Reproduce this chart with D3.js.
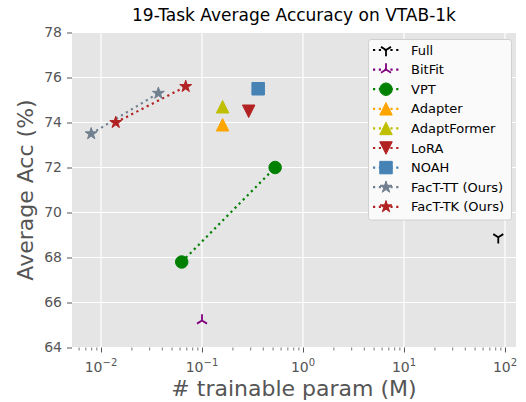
<!DOCTYPE html>
<html>
<head>
<meta charset="utf-8">
<script src="https://cdn.jsdelivr.net/npm/d3@7"></script>
<style>
  html, body { margin: 0; padding: 0; background: #fff; }
  svg { display: block; font-family: "DejaVu Sans", sans-serif; }
</style>
</head>
<body>
<svg id="chart" width="526" height="402"></svg>
<script>
// ---- data ----
const methods = ["Full", "BitFit", "VPT", "Adapter", "AdaptFormer", "LoRA", "NOAH", "FacT-TT (Ours)", "FacT-TK (Ours)"];
const trainableParams = [[85.8], [0.10], [0.063, 0.53], [0.16], [0.16], [0.29], [0.36], [0.008, 0.037], [0.014, 0.069]];
const avgAccuracy = [[68.9], [65.2], [67.8, 72.0], [73.9], [74.7], [74.5], [75.5], [73.5, 75.3], [74.0, 75.6]];
const markerShapes = ["tri_down", "tri_up", "circle", "triangle_up", "triangle_up", "triangle_down", "square", "star", "star"];
const colors = ["#000000", "#800080", "#008000", "#FFA500", "#BFBF00", "#B22222", "#4682B4", "#708090", "#B22222"];
const yTicks = [64, 66, 68, 70, 72, 74, 76, 78];
const xTickExponents = [-2, -1, 0, 1, 2];
const titleText = "19-Task Average Accuracy on VTAB-1k";
const xLabel = "# trainable param (M)";
const yLabel = "Average Acc (%)";

// ---- layout ----
const W = 526, H = 402;
const plot = { left: 72, right: 516, top: 32.5, bottom: 347.5 };
const svg = d3.select("#chart");

const x = d3.scaleLog()
  .domain([Math.pow(10, -2.287), Math.pow(10, 2.109)])
  .range([plot.left, plot.right]);
const y = d3.scaleLinear().domain([64, 78]).range([plot.bottom, plot.top]);

// background
svg.append("rect").attr("x", plot.left).attr("y", plot.top)
  .attr("width", plot.right - plot.left).attr("height", plot.bottom - plot.top)
  .attr("fill", "#E5E5E5");

// grid
const gridG = svg.append("g");
const majorX = xTickExponents.map(e => Math.pow(10, e));
gridG.selectAll("line.gx").data(majorX).join("line")
  .attr("x1", d => x(d)).attr("x2", d => x(d))
  .attr("y1", plot.top).attr("y2", plot.bottom)
  .attr("stroke", "#fff").attr("stroke-width", 1.2);
gridG.selectAll("line.gy").data(yTicks).join("line")
  .attr("y1", d => y(d)).attr("y2", d => y(d))
  .attr("x1", plot.left).attr("x2", plot.right)
  .attr("stroke", "#fff").attr("stroke-width", 1.2);

// axes
const tickColor = "#555555";
const yAxis = d3.axisLeft(y).tickValues(yTicks).tickSize(5).tickPadding(5).tickFormat(d3.format("d"));
const yG = svg.append("g").attr("transform", `translate(${plot.left},0)`).call(yAxis);
yG.select(".domain").remove();
yG.selectAll(".tick line").attr("stroke", tickColor).attr("stroke-width", 1);
yG.selectAll(".tick text").attr("fill", tickColor).attr("font-size", 14)
  .attr("font-family", "DejaVu Sans");

// x axis: major ticks
const xAxis = d3.axisBottom(x).tickValues(majorX).tickSize(5).tickFormat("");
const xG = svg.append("g").attr("transform", `translate(0,${plot.bottom})`).call(xAxis);
xG.select(".domain").remove();
xG.selectAll(".tick line").attr("stroke", tickColor).attr("stroke-width", 1);
// minor ticks
const minorX = [];
const [d0, d1] = x.domain();
for (let e = -3; e <= 2; e++) {
  for (let m = 2; m <= 9; m++) {
    const v = m * Math.pow(10, e);
    if (v >= d0 && v <= d1) minorX.push(v);
  }
}
const xMinorAxis = d3.axisBottom(x).tickValues(minorX).tickSize(3).tickFormat("");
const xmG = svg.append("g").attr("transform", `translate(0,${plot.bottom})`).call(xMinorAxis);
xmG.select(".domain").remove();
xmG.selectAll(".tick line").attr("stroke", tickColor).attr("stroke-width", 0.8);

// x tick labels with superscripts
const xLab = svg.append("g");
xTickExponents.forEach(e => {
  const t = xLab.append("text")
    .attr("x", x(Math.pow(10, e)))
    .attr("y", plot.bottom + 24.5)
    .attr("text-anchor", "middle")
    .attr("fill", tickColor)
    .attr("font-size", 14);
  t.append("tspan").text("10");
  t.append("tspan").attr("font-size", 10).attr("dy", -6)
    .text(e < 0 ? "\u2212" + Math.abs(e) : String(e));
});

// axis labels & title
svg.append("text").attr("x", (plot.left + plot.right) / 2).attr("y", 396)
  .attr("text-anchor", "middle").attr("fill", tickColor).attr("font-size", 22)
  .text(xLabel);
svg.append("text")
  .attr("transform", `translate(33,${(plot.top + plot.bottom) / 2}) rotate(-90)`)
  .attr("text-anchor", "middle").attr("fill", tickColor).attr("font-size", 22)
  .text(yLabel);
svg.append("text").attr("x", (plot.left + plot.right) / 2).attr("y", 21)
  .attr("text-anchor", "middle").attr("fill", "#000").attr("font-size", 17)
  .text(titleText);

// ---- marker shapes ----
const MS = 12.5;
function markerPath(shape, ms) {
  const r = ms / 2;
  switch (shape) {
    case "circle": {
      return `M${r},0A${r},${r},0,1,1,${-r},0A${r},${r},0,1,1,${r},0Z`;
    }
    case "triangle_up":
      return `M0,${-r}L${r},${r}L${-r},${r}Z`;
    case "triangle_down":
      return `M0,${r}L${r},${-r}L${-r},${-r}Z`;
    case "square":
      return `M${-r},${-r}H${r}V${r}H${-r}Z`;
    case "star": {
      const inner = r * 0.381966;
      let p = "";
      for (let i = 0; i < 10; i++) {
        const rad = i % 2 === 0 ? r : inner;
        const a = -Math.PI / 2 + i * Math.PI / 5;
        p += (i === 0 ? "M" : "L") + (rad * Math.cos(a)).toFixed(3) + "," + (rad * Math.sin(a)).toFixed(3);
      }
      return p + "Z";
    }
    case "tri_down": // "Y"
      return `M0,0L0,${r}M0,0L${0.8 * r},${-0.5 * r}M0,0L${-0.8 * r},${-0.5 * r}`;
    case "tri_up":
      return `M0,0L0,${-r}M0,0L${0.8 * r},${0.5 * r}M0,0L${-0.8 * r},${0.5 * r}`;
  }
}
const isLineMarker = s => s === "tri_down" || s === "tri_up";

function drawMarker(g, shape, color, cx, cy) {
  const p = g.append("path").attr("d", markerPath(shape, MS))
    .attr("transform", `translate(${cx},${cy})`);
  if (isLineMarker(shape)) {
    p.attr("fill", "none").attr("stroke", color).attr("stroke-width", 1.8);
  } else {
    p.attr("fill", color).attr("stroke", color).attr("stroke-width", 1).attr("stroke-linejoin", "miter");
  }
}

// ---- series ----
const seriesData = methods.map((m, i) => ({
  name: m, color: colors[i], shape: markerShapes[i],
  pts: trainableParams[i].map((p, j) => ({ p, a: avgAccuracy[i][j] }))
}));

const line = d3.line().x(d => x(d.p)).y(d => y(d.a));
const dataG = svg.append("g");
seriesData.forEach(s => {
  if (s.pts.length > 1) {
    dataG.append("path").attr("d", line(s.pts))
      .attr("fill", "none").attr("stroke", s.color)
      .attr("stroke-width", 2.2).attr("stroke-dasharray", "2.2,3.6");
  }
});
seriesData.forEach(s => {
  s.pts.forEach(d => drawMarker(dataG, s.shape, s.color, x(d.p), y(d.a)));
});

// ---- legend ----
const leg = { x: 368.5, y: 39.5, w: 143, h: 180.5, row0: 50, rowStep: 19.6 };
const legG = svg.append("g");
legG.append("rect").attr("x", leg.x).attr("y", leg.y).attr("width", leg.w).attr("height", leg.h)
  .attr("rx", 2.6).attr("ry", 2.6)
  .attr("fill", "#FAFAFA").attr("stroke", "#D0D0D0").attr("stroke-width", 1);
seriesData.forEach((s, i) => {
  const cy = leg.row0 + i * leg.rowStep;
  legG.append("line").attr("x1", 373).attr("x2", 399).attr("y1", cy).attr("y2", cy)
    .attr("stroke", s.color).attr("stroke-width", 2.2).attr("stroke-dasharray", "2.2,3.6");
  drawMarker(legG, s.shape, s.color, 386, cy);
  legG.append("text").attr("x", 411).attr("y", cy).attr("dy", "0.36em")
    .attr("font-size", 13).attr("fill", "#000").text(s.name);
});
</script>
</body>
</html>
